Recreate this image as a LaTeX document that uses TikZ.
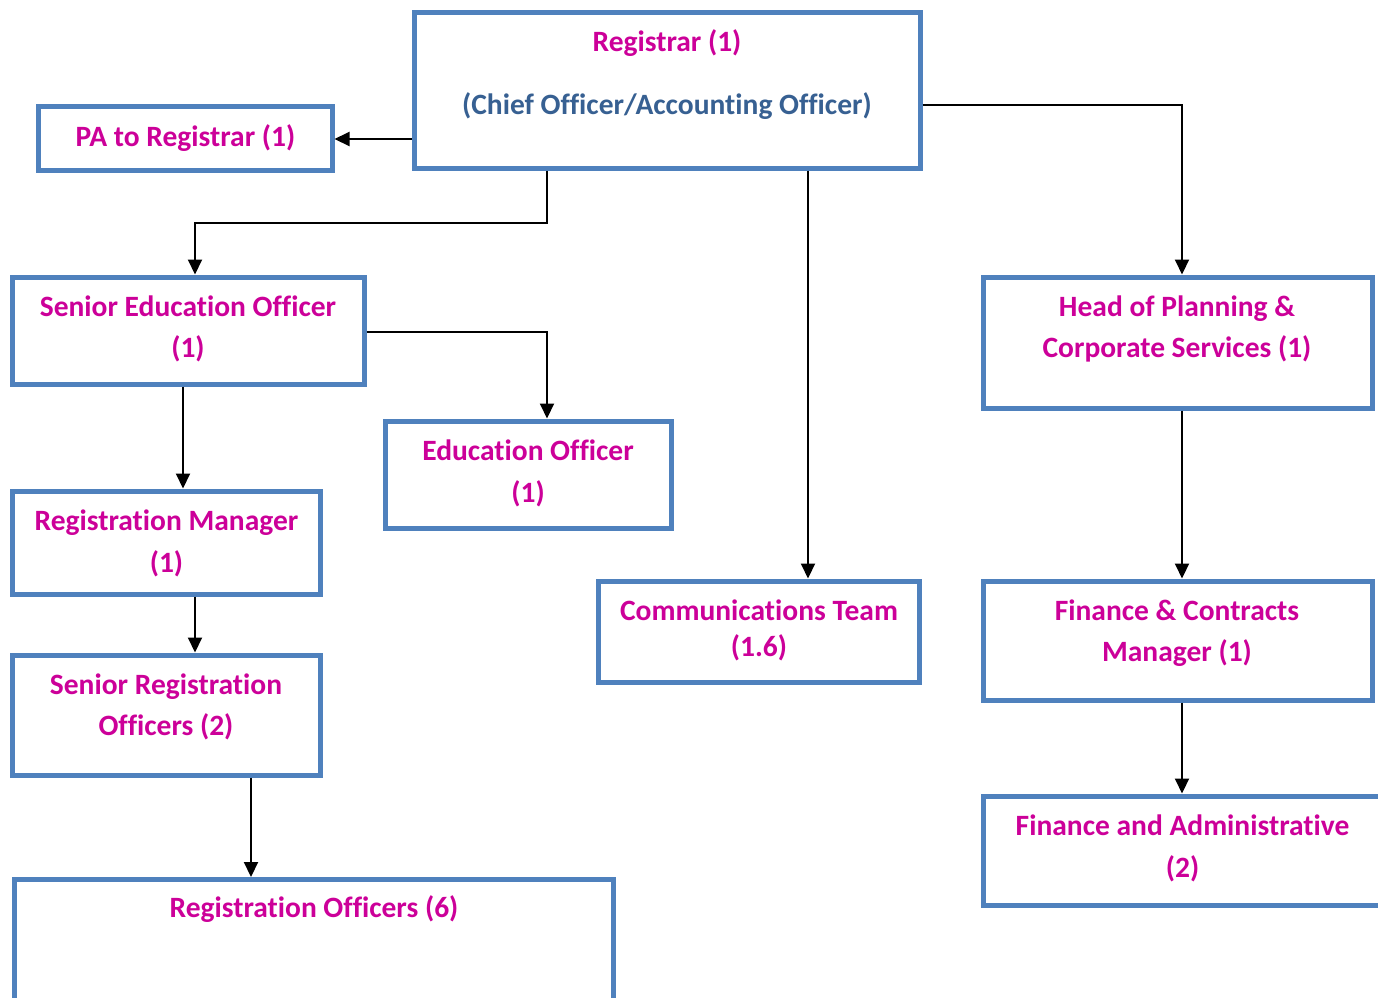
\documentclass[tikz,border=0pt]{standalone}
\usepackage{fontspec}
\setmainfont{Carlito}[Ligatures=NoCommon]
\usetikzlibrary{arrows.meta}
\definecolor{boxblue}{HTML}{4F81BD}
\definecolor{magtext}{RGB}{204,0,153}
\definecolor{greyblue}{HTML}{376092}
\tikzset{
  box/.style={draw=boxblue, line width=5pt, fill=white, rectangle, inner sep=0pt},
  lbl/.style={anchor=base, inner sep=0pt, text=magtext, font=\fontsize{29.5}{34}\selectfont\bfseries},
  arr/.style={draw=black, line width=2pt, -{Triangle[length=15pt,width=14pt]}}
}
\begin{document}
\begin{tikzpicture}[x=1pt,y=-1pt]
\useasboundingbox (0,0) rectangle (1378,997);
\clip (0,0) rectangle (1378,997);
% boxes
\node[box, minimum width=506, minimum height=156] (reg) at (667,90) {};
\node[box, minimum width=294, minimum height=64] (pa) at (185,138) {};
\node[box, minimum width=352, minimum height=107] (seo) at (188,330.5) {};
\node[box, minimum width=389, minimum height=131] (hop) at (1177.5,342.5) {};
\node[box, minimum width=321, minimum height=101] (comm) at (758.5,631.5) {};
\node[box, minimum width=286, minimum height=107] (edu) at (528,474.5) {};
\node[box, minimum width=308, minimum height=103] (rm) at (166,542.5) {};
\node[box, minimum width=308, minimum height=120] (sro) at (166,715) {};
\node[box, minimum width=599, minimum height=128] (ro) at (313.5,943.5) {};
\node[box, minimum width=389, minimum height=119] (fc) at (1177.5,640.5) {};
\node[box, minimum width=399, minimum height=109] (fa) at (1183,850.5) {};
% texts
\node[lbl] (reg-a) at (667,51) {Registrar (1)};
\node[lbl, text=greyblue] (reg-b) at (667,114) {(Chief Officer/Accounting Officer)};
\node[lbl] (pa-a) at (185.5,146) {PA to Registrar (1)};
\node[lbl] (seo-a) at (188,316) {Senior Education Officer};
\node[lbl] (seo-b) at (188,357) {(1)};
\node[lbl] (hop-a) at (1177,316) {Head of Planning \&};
\node[lbl] (hop-b) at (1177,357) {Corporate Services (1)};
\node[lbl] (comm-a) at (759,620) {Communications Team};
\node[lbl] (comm-b) at (759,656) {(1.6)};
\node[lbl] (edu-a) at (528,460) {Education Officer};
\node[lbl] (edu-b) at (528,502) {(1)};
\node[lbl] (rm-a) at (166.5,530) {Registration Manager};
\node[lbl] (rm-b) at (166.5,572) {(1)};
\node[lbl] (sro-a) at (166,694) {Senior Registration};
\node[lbl] (sro-b) at (166,735) {Officers (2)};
\node[lbl] (ro-a) at (314,917) {Registration Officers (6)};
\node[lbl] (fc-a) at (1177,620) {Finance \& Contracts};
\node[lbl] (fc-b) at (1177,661) {Manager (1)};
\node[lbl] (fa-a) at (1182.5,835) {Finance and Administrative};
\node[lbl] (fa-b) at (1182.5,877) {(2)};
% connector coordinates
\coordinate (j1) at (547,223);
\coordinate (xs) at (195,0);
\coordinate (xc) at (808,0);
\coordinate (xh) at (1182,0);
\coordinate (xe) at (547,0);
\coordinate (x1) at (183,0);
\coordinate (x2) at (195,0);
\coordinate (x3) at (251,0);
\coordinate (ypa) at (0,139);
\coordinate (yreg) at (0,105);
\coordinate (yseo) at (0,332);
% connectors
\draw[arr] (reg.west |- ypa) -- (pa.east |- ypa);
\draw[arr] (reg.south -| j1) -- (j1) -| (seo.north -| xs);
\draw[arr] (reg.east |- yreg) -| (hop.north -| xh);
\draw[arr] (reg.south -| xc) -- (comm.north -| xc);
\draw[arr] (seo.east |- yseo) -| (edu.north -| xe);
\draw[arr] (seo.south -| x1) -- (rm.north -| x1);
\draw[arr] (rm.south -| x2) -- (sro.north -| x2);
\draw[arr] (sro.south -| x3) -- (ro.north -| x3);
\draw[arr] (hop.south -| xh) -- (fc.north -| xh);
\draw[arr] (fc.south -| xh) -- (fa.north -| xh);
\end{tikzpicture}
\end{document}
